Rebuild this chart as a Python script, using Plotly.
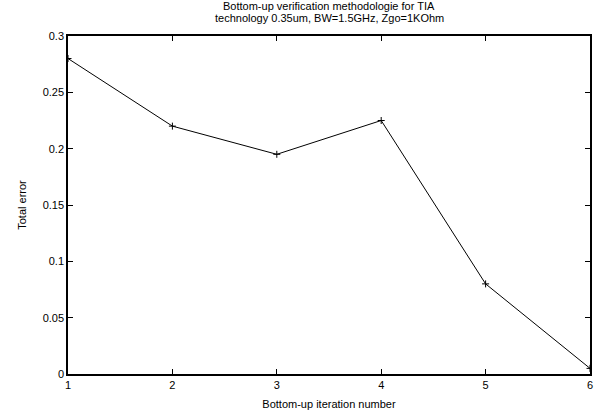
import plotly.graph_objects as go

iterations = [1, 2, 3, 4, 5, 6]
total_error = [0.28, 0.22, 0.195, 0.225, 0.08, 0.005]
y_ticks = [0, 0.05, 0.1, 0.15, 0.2, 0.25, 0.3]
y_tick_labels = ["0", "0.05", "0.1", "0.15", "0.2", "0.25", "0.3"]
x_ticks = [1, 2, 3, 4, 5, 6]
title_lines = ["Bottom-up verification methodologie for TIA",
               "technology 0.35um, BW=1.5GHz, Zgo=1KOhm"]

fig = go.Figure()
fig.add_trace(go.Scatter(
    x=iterations, y=total_error, mode="lines+markers",
    line=dict(color="black", width=1),
    marker=dict(symbol="cross-thin", size=5, line=dict(color="black", width=1), color="black"),
    showlegend=False,
))

font = dict(family="Liberation Sans, Arial, sans-serif", size=11, color="black")
fig.update_layout(
    width=603, height=419,
    margin=dict(l=68, r=10, t=36, b=42),
    paper_bgcolor="white", plot_bgcolor="white",
    font=font,
    xaxis=dict(
        range=[1, 6], tickvals=x_ticks, ticks="inside", ticklen=5, tickcolor="black",
        showline=True, linecolor="black", linewidth=1.5, mirror="ticks",
        showgrid=False, zeroline=False,
        title=dict(text="Bottom-up iteration number", standoff=10, font=font),
    ),
    yaxis=dict(
        range=[0, 0.3], tickvals=y_ticks, ticktext=y_tick_labels, ticks="inside", ticklen=5,
        tickcolor="black",
        showline=True, linecolor="black", linewidth=1.5, mirror="ticks",
        showgrid=False, zeroline=False,
        title=dict(text="Total error", standoff=14, font=font),
    ),
)
for line, shift in zip(title_lines, [22, 10]):
    fig.add_annotation(text=line, xref="paper", yref="paper", x=0.5, y=1,
                       xanchor="center", yanchor="bottom", yshift=shift,
                       showarrow=False, font=dict(family="Liberation Sans, Arial, sans-serif",
                                                  size=11, color="black"))

fig.write_html("out.html", config={"displayModeBar": False},
               post_script="document.body.style.margin='0';")
